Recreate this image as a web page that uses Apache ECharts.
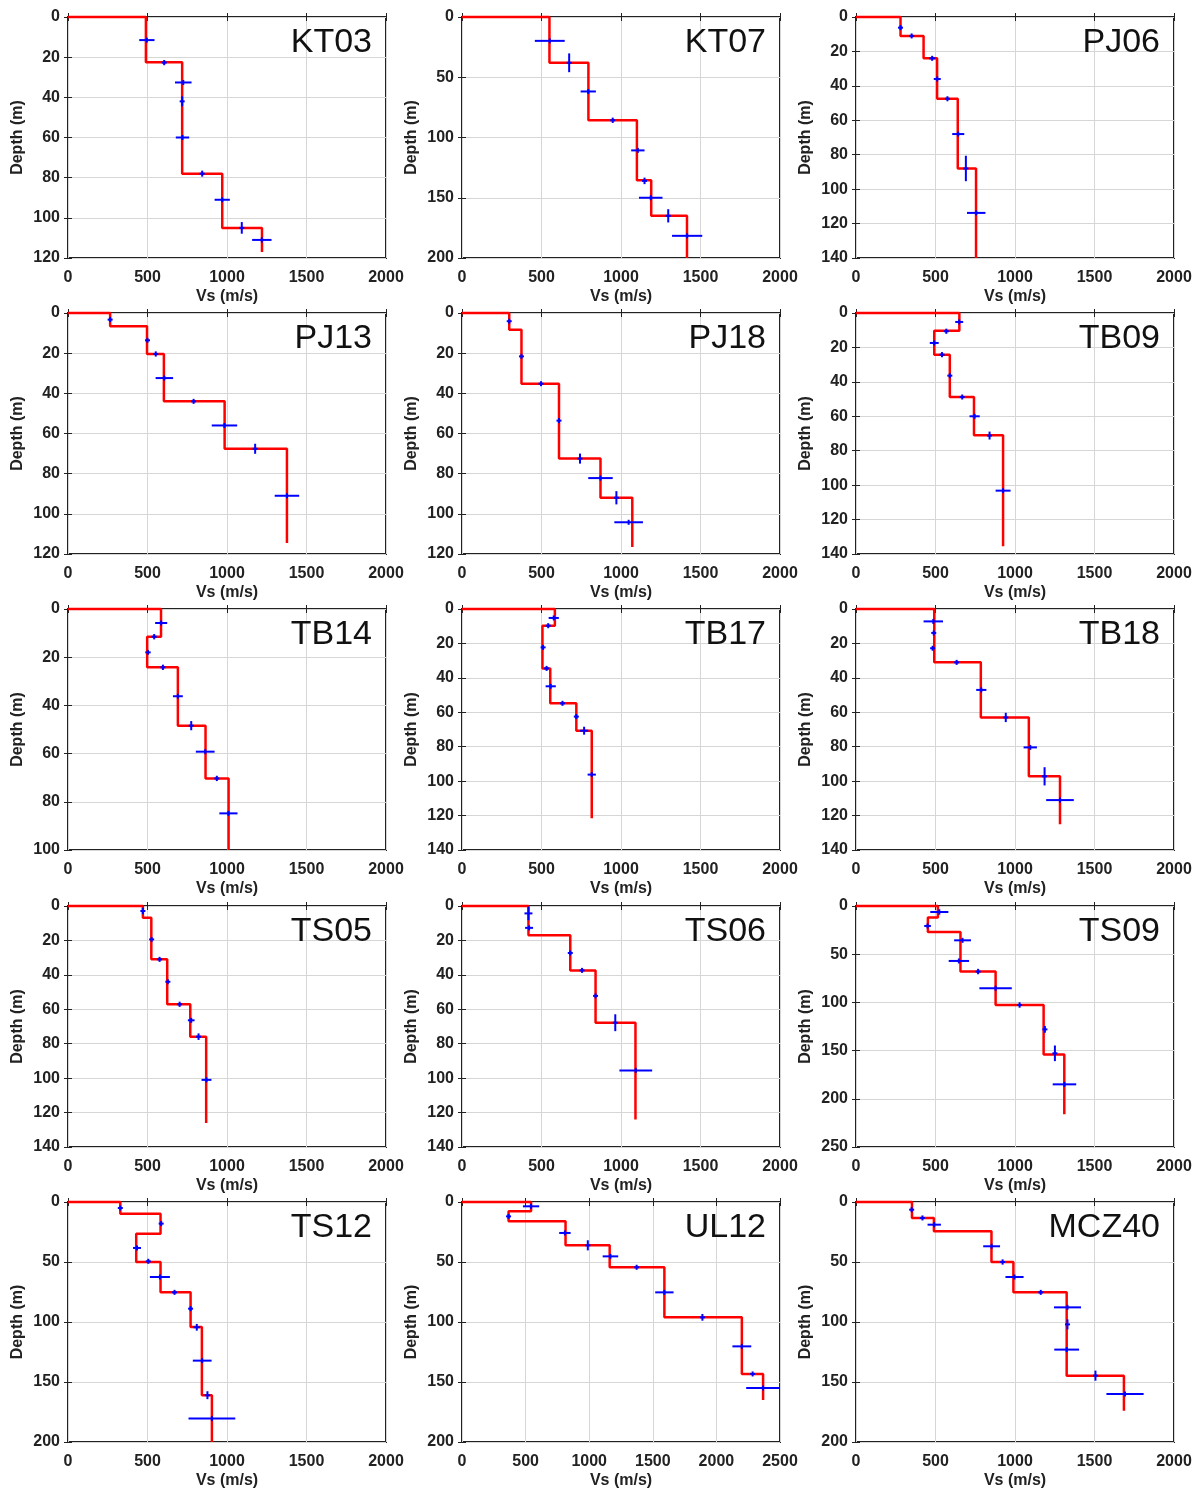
<!DOCTYPE html>
<html>
<head>
<meta charset="utf-8">
<script src="https://cdn.jsdelivr.net/npm/echarts@6/dist/echarts.min.js"></script>
<style>
  body { margin: 0; background: #fff; }
  #main { width: 1200px; height: 1490px; }
</style>
</head>
<body>
<div id="main"></div>
<script>
// station names, panel order: row by row
var stations = ['KT03', 'KT07', 'PJ06', 'PJ13', 'PJ18', 'TB09', 'TB14', 'TB17', 'TB18', 'TS05', 'TS06', 'TS09', 'TS12', 'UL12', 'MCZ40'];
var depthMax  = [120, 200, 140, 120, 120, 140, 100, 140, 140, 140, 140, 250, 200, 200, 200];
var depthStep = [20, 50, 20, 20, 20, 20, 20, 20, 20, 20, 20, 50, 50, 50, 50];
var vsMax     = [2000, 2000, 2000, 2000, 2000, 2000, 2000, 2000, 2000, 2000, 2000, 2000, 2000, 2500, 2000];

// layer velocities (m/s) and layer bottom depths (m); last depth = end of profile
// error crosses: [vs, depth, vs half-range, depth half-range]
var kt03Vs = [490, 718, 970, 1220];
var kt03Z  = [22.5, 78, 105, 117];
var kt03Err = [[496, 11.5, 48, 0], [605, 22.7, 10, 1.3], [725, 32.6, 52, 0], [718, 42, 6, 2.5], [720, 60, 42, 0],
               [844, 78, 8, 1.5], [970, 91, 48, 0], [1093, 105, 8, 2.9], [1219, 111, 61, 1.3]];

var kt07Vs = [550, 795, 1100, 1190, 1415];
var kt07Z  = [38, 85.7, 135.5, 165, 200];
var kt07Err = [[552, 19.8, 94, 0], [674, 38, 15, 7.8], [794, 61.8, 48, 0], [948, 85.7, 8, 2.2], [1106, 110.7, 42, 0],
               [1148, 136, 10, 2.7], [1187, 150, 74, 0], [1297, 165, 8, 5.5], [1416, 181.6, 95, 0]];

var pj06Vs = [280, 425, 510, 640, 755];
var pj06Z  = [11, 24, 47.5, 88, 140];
var pj06Err = [[280, 6.2, 5, 1.2], [350, 11, 8, 0.8], [479, 24, 20, 0.8], [511, 36, 22, 0],
               [575, 47.5, 8, 0.8], [643, 68, 38, 0], [691, 88, 10, 7.4], [756, 113.8, 58, 0]];

var pj13Vs = [265, 497, 603, 985, 1377];
var pj13Z  = [6.6, 20.4, 44, 67.6, 114.5];
var pj13Err = [[265, 3.3, 8, 0.8], [500, 13.6, 5, 1], [552, 20.4, 8, 1.3], [606, 32.4, 55, 0],
               [790, 44, 8, 1.2], [984, 56, 80, 0], [1177, 67.6, 8, 2.5], [1377, 91, 77, 0]];

var pj18Vs = [297, 374, 610, 871, 1071];
var pj18Z  = [8.3, 35.2, 72.5, 92, 116.5];
var pj18Err = [[297, 4.1, 8, 0.8], [374, 21.6, 5, 1], [497, 35.2, 8, 0.8], [610, 53.6, 5, 0.8],
               [742, 72.5, 10, 2.5], [871, 82.2, 77, 0], [971, 92, 10, 3.3], [1048, 104.2, 90, 0]];

var tb09Vs = [650, 492, 590, 742, 925];
var tb09Z  = [10.3, 24.2, 48.8, 71, 135.5];
var tb09Err = [[649, 5.2, 25, 0.8], [568, 10.6, 8, 1.5], [492, 17.4, 28, 0], [541, 24.2, 8, 1.5], [590, 36.4, 5, 0.8],
               [668, 48.8, 8, 0.8], [746, 60, 32, 0], [840, 71.2, 10, 2.3], [925, 103.2, 47, 0]];

var tb14Vs = [585, 498, 691, 865, 1010];
var tb14Z  = [11.5, 24.2, 48.4, 70.3, 100];
var tb14Err = [[586, 5.8, 38, 0], [542, 11.5, 8, 1.1], [503, 18, 17, 0], [597, 24.2, 8, 1.1], [691, 36.2, 31, 0],
               [775, 48.4, 8, 1.9], [863, 59.2, 59, 0], [936, 70.3, 10, 1.1], [1009, 84.8, 57, 0]];

var tb17Vs = [584, 506, 555, 719, 816];
var tb17Z  = [9.7, 34.5, 54.8, 70.7, 121.6];
var tb17Err = [[577, 5.2, 32, 0.8], [542, 9.7, 8, 0.8], [510, 22.3, 4, 0.8], [532, 34.5, 8, 0.8], [558, 44.9, 32, 0],
               [632, 54.8, 5, 0.5], [719, 62.5, 4, 1], [768, 70.7, 26, 2.3], [816, 96.2, 26, 0]];

var tb18Vs = [492, 785, 1087, 1283];
var tb18Z  = [31, 63, 97.2, 125];
var tb18Err = [[486, 7.2, 61, 0], [489, 13.9, 4, 1], [482, 22.8, 8, 1], [633, 31, 8, 0.8], [788, 47, 32, 0],
               [942, 63, 8, 2.7], [1096, 80.4, 42, 0], [1186, 97.2, 10, 5.3], [1283, 111, 87, 0]];

var ts05Vs = [471, 524, 624, 769, 869];
var ts05Z  = [6.8, 31, 57.1, 75.9, 126];
var ts05Err = [[471, 2.9, 8, 1.9], [526, 19.4, 4, 0.8], [576, 31, 8, 0.8], [628, 44, 5, 0.8],
               [702, 57.1, 12, 1.5], [775, 66.4, 21, 0.6], [821, 75.9, 12, 1.9], [871, 101, 31, 0.6]];

var ts06Vs = [418, 681, 840, 1091];
var ts06Z  = [17, 37.4, 67.8, 124];
var ts06Err = [[418, 4.3, 25, 4], [422, 12.7, 25, 1], [681, 27.3, 5, 0.8], [755, 37.4, 10, 0.8],
               [840, 52.2, 5, 0.8], [964, 67.8, 8, 4.9], [1093, 95.5, 103, 0]];

var ts09Vs = [515, 452, 657, 878, 1180, 1310];
var ts09Z  = [12, 27, 68, 102.7, 154, 216];
var ts09Err = [[524, 6.2, 57, 2.8], [450, 20.7, 21, 0], [670, 35.6, 53, 0], [647, 57, 64, 0], [768, 68, 8, 2.8],
               [878, 85.4, 102, 0], [1029, 102.7, 8, 2.8], [1188, 128, 8, 3.5], [1251, 152.8, 12, 8.1], [1311, 185, 74, 0]];

var ts12Vs = [329, 582, 429, 582, 771, 842, 905];
var ts12Z  = [9.7, 26.4, 50, 75.3, 104.2, 161, 200];
var ts12Err = [[329, 5, 6, 1.7], [586, 18, 6, 1], [434, 38.3, 25, 0], [505, 49.4, 6, 1], [578, 62.5, 63, 0],
               [670, 75.3, 6, 1.7], [771, 88.9, 5, 1], [810, 104.4, 21, 2.8], [844, 132.2, 59, 0],
               [877, 161, 17, 3.3], [905, 180.5, 147, 0]];

var ul12Vs = [543, 366, 814, 1161, 1591, 2200, 2367];
var ul12Z  = [7.8, 16.1, 36.1, 54.4, 96.1, 143.3, 165];
var ul12Err = [[543, 3.6, 64, 0], [366, 12, 16, 1], [809, 25.8, 45, 0], [989, 36.1, 10, 4.2], [1167, 45.3, 61, 0],
               [1373, 54.4, 5, 0.5], [1591, 75.3, 72, 0], [1890, 96.1, 10, 2.8], [2200, 120.3, 74, 0],
               [2285, 143.3, 10, 1], [2367, 155, 133, 0]];

var mcz40Vs = [352, 490, 852, 990, 1325, 1685];
var mcz40Z  = [13.3, 24.4, 50, 75.3, 144.7, 174];
var mcz40Err = [[350, 6.4, 5, 1], [418, 13.3, 8, 1], [492, 18.9, 42, 0], [853, 36.9, 53, 0], [922, 50, 10, 2.2],
                [997, 62.5, 57, 0], [1162, 75.3, 8, 1], [1330, 87.8, 85, 0], [1330, 102, 6, 4.2],
                [1325, 123, 78, 0], [1506, 144.7, 8, 4.2], [1692, 160, 117, 0]];

var allVs  = [kt03Vs, kt07Vs, pj06Vs, pj13Vs, pj18Vs, tb09Vs, tb14Vs, tb17Vs, tb18Vs, ts05Vs, ts06Vs, ts09Vs, ts12Vs, ul12Vs, mcz40Vs];
var allZ   = [kt03Z, kt07Z, pj06Z, pj13Z, pj18Z, tb09Z, tb14Z, tb17Z, tb18Z, ts05Z, ts06Z, ts09Z, ts12Z, ul12Z, mcz40Z];
var allErr = [kt03Err, kt07Err, pj06Err, pj13Err, pj18Err, tb09Err, tb14Err, tb17Err, tb18Err, ts05Err, ts06Err, ts09Err, ts12Err, ul12Err, mcz40Err];

var myChart = echarts.init(document.getElementById('main'));

var cols = [68, 462, 856];
var rows = [17, 313, 609, 906, 1202];
var W = 318, H = 241;
var FONT = '"Liberation Sans", Arial, sans-serif';

// step profile: starts at the surface from 0 m/s
function stepLine(vs, z) {
    var pts = [[0, 0], [vs[0], 0]];
    var top = 0;
    for (var i = 0; i < vs.length; i++) {
        if (i > 0) pts.push([vs[i], top]);
        pts.push([vs[i], z[i]]);
        top = z[i];
    }
    return pts;
}

function renderCross(params, api) {
    var v = api.value(0), d = api.value(1), dv = api.value(2), dd = api.value(3);
    var c = api.coord([v, d]);
    var l = api.coord([v - dv, d]), r = api.coord([v + dv, d]);
    var t = api.coord([v, d - dd]), b = api.coord([v, d + dd]);
    var hw = Math.max(2.5, (r[0] - l[0]) / 2);
    var hh = Math.max(2.5, (b[1] - t[1]) / 2);
    var st = { stroke: '#0000ff', lineWidth: 2 };
    return {
        type: 'group',
        children: [
            { type: 'line', shape: { x1: c[0] - hw, y1: c[1], x2: c[0] + hw, y2: c[1] }, style: st },
            { type: 'line', shape: { x1: c[0], y1: c[1] - hh, x2: c[0], y2: c[1] + hh }, style: st }
        ]
    };
}

var grids = [], xAxes = [], yAxes = [], series = [], graphics = [];
var plain = function (v) { return String(v); };
var labelStyle = { fontSize: 16, fontWeight: 'bold', color: '#222', fontFamily: FONT, formatter: plain };
var nameStyle = { fontSize: 16, fontWeight: 'bold', color: '#222', fontFamily: FONT };
var tick = { show: true, inside: true, length: 4, lineStyle: { color: '#222', width: 1 } };

stations.forEach(function (name, i) {
    var c = i % 3, r = Math.floor(i / 3);
    grids.push({
        left: cols[c], top: rows[r], width: W, height: H,
        show: true, borderColor: '#222', borderWidth: 2
    });
    xAxes.push({
        gridIndex: i, type: 'value', position: 'bottom',
        min: 0, max: vsMax[i], interval: 500,
        axisLine: { show: false }, axisTick: tick,
        axisLabel: Object.assign({ margin: 12 }, labelStyle),
        splitLine: { show: true, lineStyle: { color: '#d6d6d6', width: 1 } },
        name: 'Vs (m/s)', nameLocation: 'middle', nameGap: 31, nameTextStyle: nameStyle
    });
    xAxes.push({
        gridIndex: i, type: 'value', position: 'top',
        min: 0, max: vsMax[i], interval: 500,
        axisLine: { show: false }, axisTick: tick,
        axisLabel: { show: false }, splitLine: { show: false }
    });
    yAxes.push({
        gridIndex: i, type: 'value', inverse: true, position: 'left',
        min: 0, max: depthMax[i], interval: depthStep[i],
        axisLine: { show: false }, axisTick: tick,
        axisLabel: Object.assign({ margin: 8 }, labelStyle),
        splitLine: { show: true, lineStyle: { color: '#d6d6d6', width: 1 } },
        name: 'Depth (m)', nameLocation: 'middle', nameGap: 42, nameTextStyle: nameStyle
    });
    yAxes.push({
        gridIndex: i, type: 'value', inverse: true, position: 'right',
        min: 0, max: depthMax[i], interval: depthStep[i],
        axisLine: { show: false }, axisTick: tick,
        axisLabel: { show: false }, splitLine: { show: false }
    });
    series.push({
        type: 'line', xAxisIndex: 2 * i, yAxisIndex: 2 * i,
        data: stepLine(allVs[i], allZ[i]),
        showSymbol: false, symbol: 'none', clip: false, z: 3,
        lineStyle: { color: '#ff0000', width: 2.5 },
        animation: false
    });
    series.push({
        type: 'custom', xAxisIndex: 2 * i, yAxisIndex: 2 * i,
        data: allErr[i], encode: { x: 0, y: 1 },
        renderItem: renderCross, clip: true, z: 4,
        animation: false
    });
    graphics.push({
        type: 'text', x: cols[c] + W - 14, y: rows[r] + 26, z: 10,
        style: {
            text: name, fill: '#111', font: '34px ' + FONT,
            textAlign: 'right', textVerticalAlign: 'middle'
        }
    });
});

var option = {
    backgroundColor: '#fff',
    animation: false,
    grid: grids,
    xAxis: xAxes,
    yAxis: yAxes,
    series: series,
    graphic: graphics
};
myChart.setOption(option);
window.addEventListener('resize', function () {
    myChart.resize();
});
</script>
</body>
</html>
